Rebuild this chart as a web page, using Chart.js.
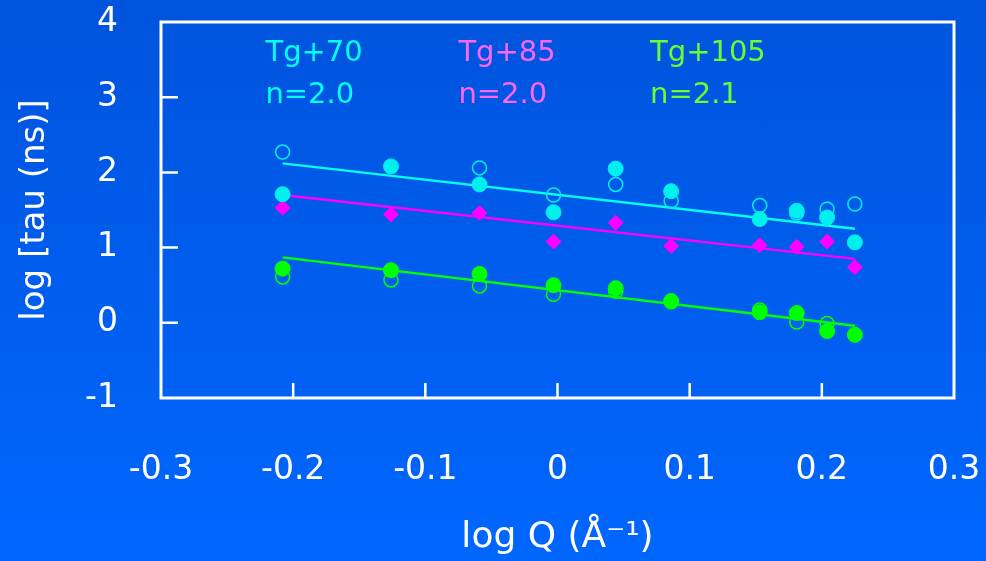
<!DOCTYPE html>
<html>
<head>
<meta charset="utf-8">
<script src="https://cdn.jsdelivr.net/npm/chart.js@4"></script>
<style>
  html, body { margin: 0; padding: 0; }
  body { width: 986px; height: 561px; background: linear-gradient(to bottom, #0053dc, #0067ff); }
</style>
</head>
<body>
<canvas id="myChart" width="986" height="561"></canvas>
<script>
// log Q positions of the measurements
var logQ = [-0.208, -0.126, -0.059, -0.003, 0.044, 0.086, 0.153, 0.181, 0.204, 0.225];
// log tau values
var tg70Filled = [1.71, 2.08, 1.84, 1.47, 2.05, 1.75, 1.38, 1.49, 1.40, 1.07];
var tg70Open = [2.27, null, 2.06, 1.70, 1.84, 1.62, 1.56, 1.46, 1.51, 1.58];
var tg85 = [1.53, 1.44, 1.46, 1.08, 1.33, 1.02, 1.03, 1.01, 1.08, 0.74];
var tg105Filled = [0.72, 0.70, 0.65, 0.50, 0.46, 0.29, 0.14, 0.13, -0.11, -0.16];
var tg105Open = [0.61, 0.57, 0.49, 0.38, 0.42, 0.28, 0.17, 0.01, -0.01, null];
// fitted power-law lines (end points)
var fitQ = [-0.208, 0.225];
var fit70 = [2.12, 1.25];
var fit85 = [1.70, 0.85];
var fit105 = [0.87, -0.04];
// labels
var seriesNames = ['Tg+70', 'Tg+85', 'Tg+105'];
var exponents = ['n=2.0', 'n=2.0', 'n=2.1'];
var xTicks = [-0.3, -0.2, -0.1, 0, 0.1, 0.2, 0.3];
var yTicks = [-1, 0, 1, 2, 3, 4];

function pts(xs, ys) {
  var out = [];
  for (var i = 0; i < xs.length; i++) {
    if (ys[i] !== null) out.push({x: xs[i], y: ys[i]});
  }
  return out;
}

var FONT = '"Comic Sans MS", "DejaVu Sans", sans-serif';

var boxPlugin = {
  id: 'box',
  afterDraw: function(chart) {
    var ctx = chart.ctx, a = chart.chartArea;
    var xs = chart.scales.x, ys = chart.scales.y;
    ctx.save();
    ctx.strokeStyle = '#ffffff';
    ctx.lineWidth = 3;
    ctx.strokeRect(a.left, a.top, a.right - a.left, a.bottom - a.top);
    ctx.lineWidth = 2.5;
    ctx.beginPath();
    [0, 1, 2, 3].forEach(function(v) {
      var py = ys.getPixelForValue(v);
      ctx.moveTo(a.left, py);
      ctx.lineTo(a.left + 17, py);
    });
    [-0.2, -0.1, 0, 0.1, 0.2].forEach(function(v) {
      var px = xs.getPixelForValue(v);
      ctx.moveTo(px, a.bottom);
      ctx.lineTo(px, a.bottom - 15);
    });
    ctx.stroke();
    // series labels inside the plot
    var cols = ['#00ffff', '#ff66ff', '#66ff33'];
    var lx = [-0.221, -0.075, 0.070];
    ctx.font = '29px ' + FONT;
    ctx.textAlign = 'left';
    ctx.textBaseline = 'middle';
    for (var i = 0; i < 3; i++) {
      ctx.fillStyle = cols[i];
      ctx.fillText(seriesNames[i], xs.getPixelForValue(lx[i]), ys.getPixelForValue(3.58));
      ctx.fillText(exponents[i], xs.getPixelForValue(lx[i]), ys.getPixelForValue(3.02));
    }
    ctx.restore();
  }
};

var ctx = document.getElementById('myChart');
var myChart = new Chart(ctx, {
  type: 'scatter',
  data: {
    datasets: [
      { data: pts(logQ, tg70Filled), backgroundColor: '#00f0f0', borderColor: '#00f0f0', pointRadius: 7.5, pointStyle: 'circle', order: 0 },
      { data: pts(logQ, tg70Open), backgroundColor: 'rgba(0,0,0,0)', borderColor: '#00f0f0', borderWidth: 1.5, pointRadius: 7, pointStyle: 'circle', order: 1 },
      { data: pts(logQ, tg85), backgroundColor: '#ff00ff', borderColor: '#ff00ff', pointRadius: 7.5, pointStyle: 'rectRot', order: 0 },
      { data: pts(logQ, tg105Filled), backgroundColor: '#00ff00', borderColor: '#00ff00', pointRadius: 7.5, pointStyle: 'circle', order: 0 },
      { data: pts(logQ, tg105Open), backgroundColor: 'rgba(0,0,0,0)', borderColor: '#00ff00', borderWidth: 1.5, pointRadius: 7, pointStyle: 'circle', order: 1 },
      { data: pts(fitQ, fit70), showLine: true, borderColor: '#00ffff', borderWidth: 2.5, pointRadius: 0, order: 5 },
      { data: pts(fitQ, fit85), showLine: true, borderColor: '#ff00ff', borderWidth: 2.5, pointRadius: 0, order: 5 },
      { data: pts(fitQ, fit105), showLine: true, borderColor: '#00ff00', borderWidth: 2.5, pointRadius: 0, order: 5 }
    ]
  },
  options: {
    responsive: false,
    animation: false,
    layout: { padding: { top: 22, right: 32, left: 0, bottom: 0 } },
    plugins: { legend: { display: false }, tooltip: { enabled: false } },
    scales: {
      x: {
        type: 'linear', min: -0.3, max: 0.3,
        afterFit: function(s) { s.height = 163; s.paddingLeft = 0; s.paddingRight = 0; },
        afterBuildTicks: function(s) { s.ticks = xTicks.map(function(v) { return {value: v}; }); },
        grid: { display: false, drawTicks: false },
        border: { display: false },
        ticks: { color: '#ffffff', padding: 53, font: { family: FONT, size: 33 }, maxRotation: 0,
          callback: function(v) { return v === 0 ? '0' : v.toFixed(1); } },
        title: { display: true, text: 'log Q (Å\u207B\u00B9)', color: '#ffffff', padding: { top: 0, bottom: 2 }, font: { family: FONT, size: 36 } }
      },
      y: {
        type: 'linear', min: -1, max: 4,
        afterFit: function(s) { s.width = 161; s.paddingTop = 0; s.paddingBottom = 0; },
        afterBuildTicks: function(s) { s.ticks = yTicks.map(function(v) { return {value: v}; }); },
        grid: { display: false, drawTicks: false },
        border: { display: false },
        ticks: { color: '#ffffff', padding: 43, font: { family: FONT, size: 33 } },
        title: { display: true, text: 'log [tau (ns)]', color: '#ffffff', padding: { top: 15, bottom: 0 }, font: { family: FONT, size: 34 } }
      }
    }
  },
  plugins: [boxPlugin]
});
</script>
</body>
</html>
